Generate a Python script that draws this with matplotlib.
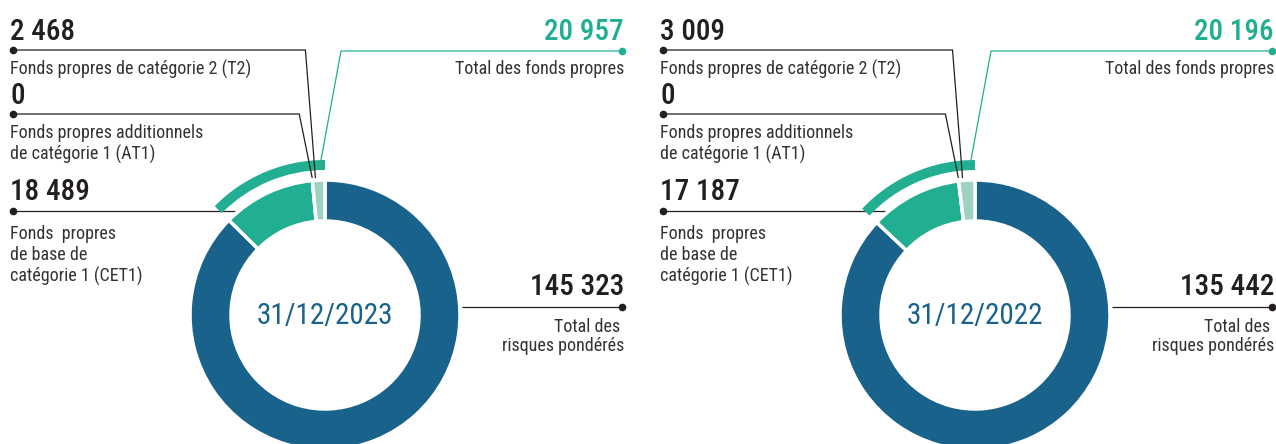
import numpy as np
import matplotlib.pyplot as plt
from matplotlib import font_manager

# données (millions d'euros)
dates = ['31/12/2023', '31/12/2022']
cet1 = [18489, 17187]
at1 = [0, 0]
t2 = [2468, 3009]
total_fp = [20957, 20196]
rwa = [145323, 135442]

BLUE = '#19628b'
GREEN = '#21ae91'
LIGHT = '#9dd1c2'
DARK = '#231f20'
GREY = '#333333'

# police étroite si dispo
fonts = font_manager.fontManager.ttflist
names = {f.name for f in fonts}
STRETCH = 'normal'
FONT = None
for cand in ['Roboto Condensed', 'Liberation Sans Narrow', 'Open Sans Condensed',
             'Noto Sans Condensed', 'DejaVu Sans Condensed']:
    if cand in names:
        FONT = cand
        break
if FONT is None:
    for cand in ['Roboto', 'Noto Sans', 'Open Sans', 'DejaVu Sans']:
        if any(f.name == cand and f.stretch in ('condensed', 'semi-condensed', 600, 500)
               for f in fonts):
            FONT, STRETCH = cand, 'condensed'
            break
if FONT is None:
    FONT = 'Roboto' if 'Roboto' in names else 'DejaVu Sans'
FAMILY = [FONT, 'DejaVu Sans']

W, H = 1276, 444
fig = plt.figure(figsize=(W / 100, H / 100), dpi=100)
ax = fig.add_axes([0, 0, 1, 1])


def Y(y):
    return H - y


def fmt(v):
    return f'{v:,}'.replace(',', ' ')


def leader(pts, ox, color=DARK, z=3, dot=True):
    xs = [p[0] + ox for p in pts]
    ys = [Y(p[1]) for p in pts]
    ax.plot(xs, ys, color=color, lw=0.9, zorder=z, solid_capstyle='butt')
    if dot:
        ax.plot(xs[0], ys[0], 'o', color=color, ms=4.5, zorder=z)


def txt(x, y, s, size=13, color=GREY, ha='left', weight='normal'):
    ax.text(x, Y(y), s, fontsize=size, color=color, ha=ha, va='baseline',
            family=FAMILY, fontweight=weight, fontstretch=STRETCH)


for i in range(2):
    ox = 650 * i
    cx, cy = 325 + ox, Y(315)
    total = rwa[i] + cet1[i] + at1[i] + t2[i]

    # anneau principal
    ax.pie([rwa[i], cet1[i], at1[i], t2[i]], radius=135, center=(cx, cy),
           startangle=90, counterclock=False,
           colors=[BLUE, GREEN, GREEN, LIGHT],
           wedgeprops=dict(width=41, edgecolor='white', linewidth=2.5))
    # arc extérieur : total des fonds propres
    arc, _ = ax.pie([total_fp[i], total - total_fp[i]], radius=155, center=(cx, cy),
                    startangle=90, counterclock=True, colors=[GREEN, 'none'],
                    wedgeprops=dict(width=10, linewidth=0))
    arc[0].set_zorder(2)

    ax.text(cx, Y(316), dates[i], fontsize=21, color=BLUE, ha='center',
            va='center', family=FAMILY, fontstretch=STRETCH)

    # extrémités des traits calculées depuis les angles
    th_t2 = t2[i] / total * 360
    a_t2 = np.radians(90 + 0.75 * th_t2)
    a_at1 = np.radians(90 + th_t2)
    x_t2 = 325 + 137 * np.cos(a_t2)
    x_at1 = 325 + 137 * np.cos(a_at1)

    leader([(13, 50), (x_t2 - 10, 50), (x_t2, 178)], ox)
    leader([(13, 114), (x_at1 - 13, 114), (x_at1, 178)], ox)
    leader([(13, 211), (235, 211)], ox, z=0.5)
    leader([(622, 51), (341, 51), (321, 160)], ox, color=GREEN)
    leader([(622, 307), (462, 307)], ox, z=0.5)

    # textes gauche
    txt(10 + ox, 40, fmt(t2[i]), size=21, color=DARK, weight='medium')
    txt(10 + ox, 75, 'Fonds propres de catégorie 2 (T2)')
    txt(10 + ox, 104, fmt(at1[i]), size=21, color=DARK, weight='medium')
    txt(10 + ox, 138, 'Fonds propres additionnels')
    txt(10 + ox, 160, 'de catégorie 1 (AT1)')
    txt(10 + ox, 200, fmt(cet1[i]), size=21, color=DARK, weight='medium')
    txt(10 + ox, 239, 'Fonds  propres')
    txt(10 + ox, 260, 'de base de')
    txt(10 + ox, 282, 'catégorie 1 (CET1)')

    # textes droite
    txt(624 + ox, 40, fmt(total_fp[i]), size=21, color=GREEN, ha='right', weight='medium')
    txt(624 + ox, 74, 'Total des fonds propres', ha='right')
    txt(624 + ox, 295, fmt(rwa[i]), size=21, color=DARK, ha='right', weight='medium')
    txt(620 + ox, 332, 'Total des', ha='right')
    txt(624 + ox, 351, 'risques pondérés', ha='right')

ax.set_xlim(0, W)
ax.set_ylim(0, H)
ax.set_aspect('auto')
ax.axis('off')

plt.savefig('out.png', dpi=100)
plt.close()
